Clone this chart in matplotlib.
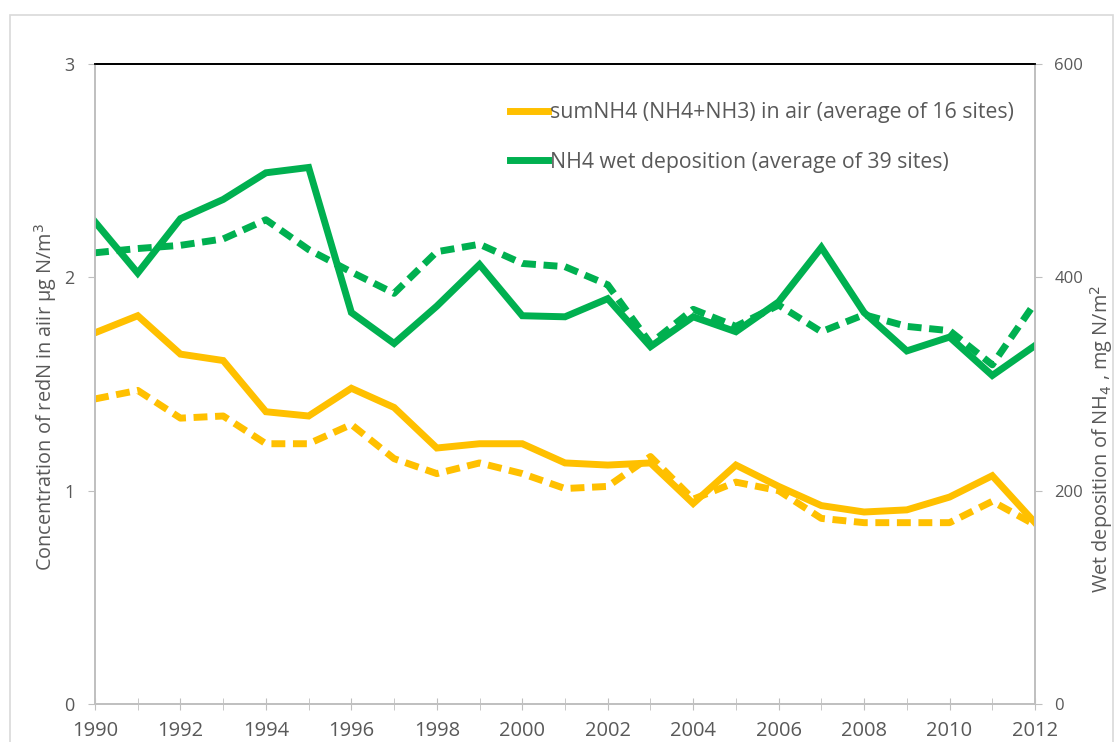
import matplotlib
matplotlib.use("Agg")
import matplotlib.pyplot as plt
from matplotlib.patches import Rectangle
from matplotlib.ticker import MultipleLocator

plt.rcParams["font.family"] = ["Open Sans", "DejaVu Sans"]

years = list(range(1990, 2013))

# sumNH4 in air, left axis (ug N/m3)
air_obs = [1.74, 1.82, 1.64, 1.61, 1.37, 1.35, 1.48, 1.39, 1.20, 1.22, 1.22, 1.13,
           1.12, 1.13, 0.94, 1.12, 1.02, 0.93, 0.90, 0.91, 0.97, 1.07, 0.85]
air_mod = [1.43, 1.47, 1.34, 1.35, 1.22, 1.22, 1.31, 1.15, 1.08, 1.13, 1.08, 1.01,
           1.02, 1.16, 0.96, 1.04, 1.00, 0.87, 0.85, 0.85, 0.85, 0.95, 0.84]

# NH4 wet deposition, right axis (mg N/m2)
wet_obs = [452, 404, 455, 473, 498, 503, 367, 338, 373, 412, 364, 363,
           380, 335, 363, 349, 377, 428, 367, 331, 344, 308, 336]
wet_mod = [423, 427, 430, 436, 454, 426, 405, 385, 424, 431, 413, 410,
           393, 338, 370, 354, 374, 349, 365, 354, 350, 318, 376]

ORANGE = "#FFC000"
GREEN = "#00B050"
GREY = "#595959"
SPINE = "#BFBFBF"

fig = plt.figure(figsize=(11.16, 7.42), dpi=100)
fig.patches.append(Rectangle((10 / 1116, -0.01), 1103 / 1116, 1 - 15 / 742 + 0.01,
                             transform=fig.transFigure, fill=False,
                             edgecolor="#D9D9D9", linewidth=1.2))

ax = fig.add_axes([95 / 1116, 1 - 704 / 742, 940 / 1116, 640 / 742])
ax2 = ax.twinx()

lw = 5
l1, = ax.plot(years, air_obs, color=ORANGE, lw=lw, solid_joinstyle="miter",
              label="sumNH4 (NH4+NH3) in air (average of 16 sites)")
ax.plot(years, air_mod, color=ORANGE, lw=lw, dashes=(2, 1.1), dash_capstyle="butt")
l2, = ax2.plot(years, wet_obs, color=GREEN, lw=lw, solid_joinstyle="miter",
               label="NH4 wet deposition (average of 39 sites)")
ax2.plot(years, wet_mod, color=GREEN, lw=lw, dashes=(2, 1.1), dash_capstyle="butt")

ax.set_xlim(1990, 2012)
ax.set_ylim(0, 3)
ax2.set_ylim(0, 600)

ax.xaxis.set_major_locator(MultipleLocator(2))
ax.xaxis.set_minor_locator(MultipleLocator(1))
ax.yaxis.set_major_locator(MultipleLocator(1))
ax2.yaxis.set_major_locator(MultipleLocator(200))

ax.tick_params(axis="x", which="both", direction="inout", length=8, color=SPINE,
               labelsize=14.5, labelcolor=GREY, pad=8)
ax.tick_params(axis="y", direction="out", length=5, color=SPINE,
               labelsize=13, labelcolor=GREY, pad=10)
ax2.tick_params(axis="y", direction="out", length=5, color=SPINE,
                labelsize=12, labelcolor=GREY, pad=9)

for a in (ax, ax2):
    for side in ("left", "right", "bottom"):
        a.spines[side].set_color(SPINE)
        a.spines[side].set_linewidth(1.2)
    a.spines["top"].set_color("black")
    a.spines["top"].set_linewidth(1.3)

ax.set_ylabel("Concentration of redN in aiir µg N/m$^3$", fontsize=14.3, color=GREY)
ax.yaxis.set_label_coords(-0.038, 0.48)
fig.text(1102 / 1116, 1 - 285 / 742, "Wet deposition of NH$_4$ , mg N/m$^2$",
         rotation=90, ha="center", va="top", fontsize=14.3, color=GREY)

ax2.legend(handles=[l1, l2], loc="upper left", bbox_to_anchor=(510 / 1116, 1 - 102 / 742),
           bbox_transform=fig.transFigure, frameon=False, fontsize=15.3,
           handlelength=1.8, handletextpad=0.1, labelspacing=1.35, labelcolor=GREY,
           borderpad=0, borderaxespad=0)

fig.savefig("out.png", dpi=100, facecolor="white")
